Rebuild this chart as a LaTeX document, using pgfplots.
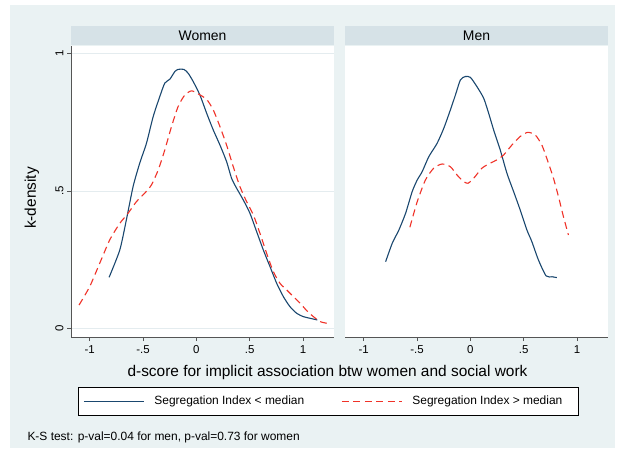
\documentclass[border=0pt]{standalone}
\usepackage{fontspec}
\setmainfont{Liberation Sans}
\usepackage{pgfplots}
\pgfplotsset{compat=1.18}
\definecolor{bgcol}{RGB}{234,242,243}
\definecolor{stripcol}{RGB}{214,226,231}
\definecolor{gridcol}{RGB}{228,236,239}
\definecolor{axiscol}{RGB}{85,85,85}
\definecolor{lowcol}{RGB}{26,71,111}
\definecolor{highcol}{RGB}{240,50,40}

\pgfplotsset{
  panel/.style={
    anchor=south west, width=263bp, height=291bp, scale only axis,
    xmin=-1.175, xmax=1.29, ymin=-0.031, ymax=1.027,
    axis background/.style={fill=white},
    axis x line*=bottom,
    axis line style={draw=axiscol, line width=0.8bp, -},
    xtick={-1,-0.5,0,0.5,1}, xticklabels={-1,-.5,0,.5,1},
    ytick={0,0.5,1},
    ymajorgrids, grid style={draw=gridcol, line width=0.9bp},
    tick align=outside, major tick length=4bp,
    tick style={draw=axiscol, line width=0.7bp},
    ticklabel style={font=\fontsize{11.5}{12}\selectfont, text=black},
    xticklabel style={yshift=-1bp},
    clip=false,
  },
  low/.style={draw=lowcol, line width=1.1bp, no marks, smooth, tension=0.4},
  high/.style={draw=highcol, line width=1.1bp, no marks, dash pattern=on 7bp off 4.5bp, smooth, tension=0.4},
}

\begin{document}
\begin{tikzpicture}
\path[use as bounding box, fill=white] (0,0) rectangle (617bp,-453bp);
\fill[bgcol] (10bp,-5bp) rectangle (615bp,-448bp);
% strip headers
\fill[stripcol] (71bp,-26bp) rectangle (334bp,-45bp);
\fill[stripcol] (345bp,-26bp) rectangle (608bp,-45bp);
\node[font=\fontsize{14}{14}\selectfont] at (202.5bp,-35.5bp) {Women};
\node[font=\fontsize{14}{14}\selectfont] at (476.5bp,-35.5bp) {Men};

% Women
\begin{axis}[panel, at={(71bp,-337bp)},
  axis y line*=left,
  yticklabels={0,.5,1},
  yticklabel style={rotate=90, anchor=south},
  legend columns=2,
  legend style={at={(0.0266,-0.1718)}, anchor=north west, draw=black,
    fill=white, inner xsep=5bp, inner ysep=8bp,
    nodes={inner xsep=0pt, inner ysep=0pt, text height=9bp, text depth=3bp,
      font=\fontsize{12}{12}\selectfont, anchor=west},
    /tikz/every odd column/.append style={column sep=10bp},
    /tikz/every even column/.append style={column sep=37bp}},
  legend image code/.code={\draw[#1, line width=1.2bp] (0bp,0bp) -- (60bp,0bp);},
]
\addplot[low] coordinates {
(-0.818,0.186) (-0.718,0.285) (-0.656,0.395) (-0.593,0.516) (-0.531,0.601)
(-0.468,0.673) (-0.405,0.770) (-0.343,0.843) (-0.296,0.892) (-0.249,0.906)
(-0.202,0.934) (-0.171,0.942) (-0.117,0.942) (-0.077,0.928) (-0.030,0.898)
(0.033,0.849) (0.096,0.783) (0.158,0.722) (0.221,0.667) (0.283,0.607)
(0.330,0.546) (0.377,0.510) (0.440,0.467) (0.502,0.419) (0.565,0.352)
(0.628,0.285) (0.690,0.225) (0.753,0.164) (0.815,0.116) (0.878,0.079)
(0.941,0.055) (1.003,0.043) (1.066,0.037) (1.134,0.031)
};
\addlegendentry{Segregation Index < median}
\addplot[high] coordinates {
(-1.100,0.085) (-1.000,0.152) (-0.906,0.237) (-0.812,0.322) (-0.718,0.382)
(-0.640,0.419) (-0.562,0.461) (-0.484,0.492) (-0.421,0.522) (-0.358,0.576)
(-0.296,0.649) (-0.233,0.734) (-0.171,0.807) (-0.108,0.849) (-0.045,0.864)
(0.017,0.853) (0.096,0.833) (0.158,0.795) (0.221,0.734) (0.283,0.667)
(0.346,0.588) (0.408,0.516) (0.471,0.461) (0.534,0.413) (0.596,0.346)
(0.659,0.273) (0.721,0.207) (0.784,0.164) (0.847,0.140) (0.909,0.116)
(0.972,0.092) (1.034,0.065) (1.097,0.043) (1.160,0.025) (1.222,0.019)
};
\addlegendentry{Segregation Index > median\hspace*{11bp}}
\end{axis}

% Men
\begin{axis}[panel, at={(345bp,-337bp)},
  axis y line=none,
  yticklabels={},
]
\addplot[low] coordinates {
(-0.794,0.243) (-0.732,0.310) (-0.670,0.358) (-0.607,0.419) (-0.545,0.498)
(-0.498,0.540) (-0.452,0.570) (-0.389,0.625) (-0.312,0.673) (-0.249,0.728)
(-0.187,0.795) (-0.140,0.849) (-0.093,0.904) (-0.047,0.916) (0.000,0.913)
(0.062,0.879) (0.125,0.837) (0.171,0.783) (0.218,0.722) (0.280,0.649)
(0.343,0.564) (0.405,0.498) (0.467,0.431) (0.530,0.358) (0.576,0.316)
(0.638,0.249) (0.710,0.191) (0.766,0.188) (0.810,0.185)
};
\addplot[high] coordinates {
(-0.567,0.368) (-0.498,0.461) (-0.421,0.540) (-0.343,0.583) (-0.265,0.598)
(-0.187,0.588) (-0.125,0.558) (-0.062,0.534) (-0.022,0.528) (0.031,0.546)
(0.109,0.583) (0.187,0.601) (0.249,0.613) (0.312,0.631) (0.389,0.667)
(0.467,0.698) (0.536,0.713) (0.607,0.704) (0.670,0.667) (0.732,0.601)
(0.779,0.546) (0.826,0.479) (0.872,0.407) (0.919,0.340)
};
\end{axis}

\node[rotate=90, font=\fontsize{15.5}{15.5}\selectfont] at (32bp,-198bp) {k-density};
\node[font=\fontsize{15.5}{15.5}\selectfont] at (327.5bp,-373bp)
  {d-score for implicit association btw women and social work};
\node[anchor=west, font=\fontsize{12}{12}\selectfont] at (24bp,-437bp)
  {K-S test: p-val=0.04 for men, p-val=0.73 for women};
\end{tikzpicture}
\end{document}
